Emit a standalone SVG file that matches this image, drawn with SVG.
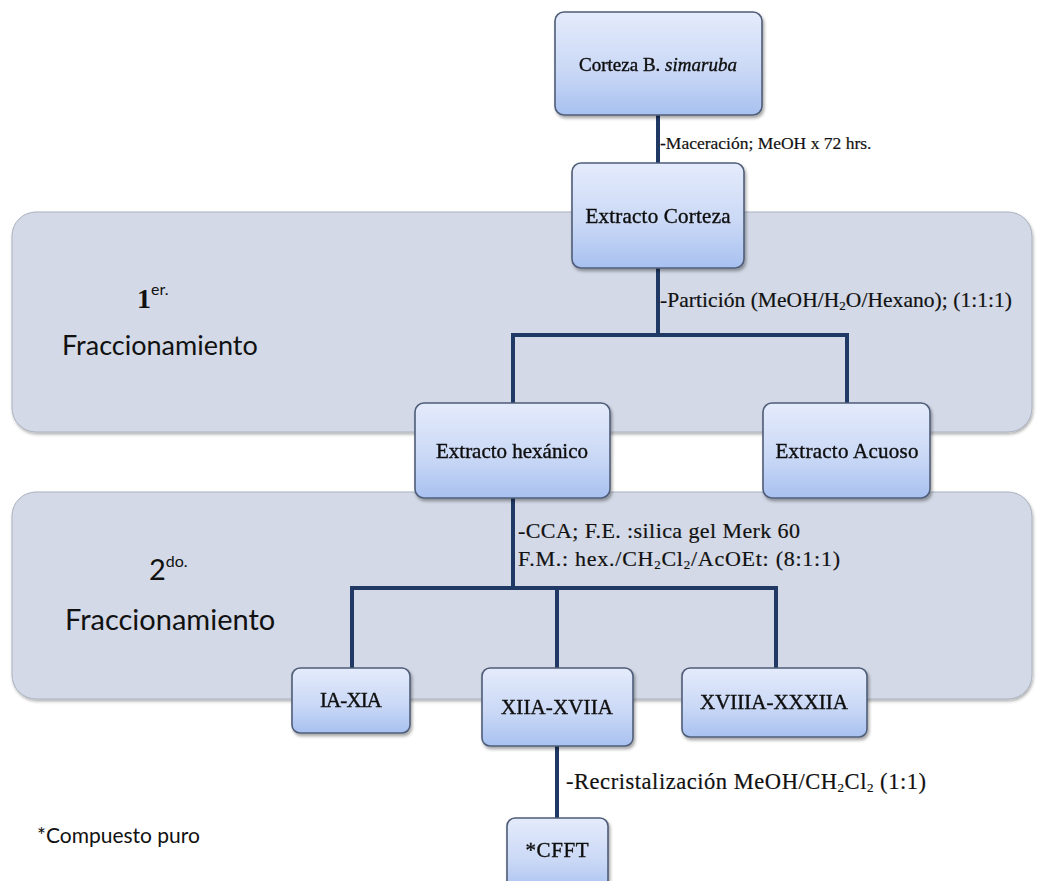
<svg xmlns="http://www.w3.org/2000/svg" width="1037" height="881" viewBox="0 0 1037 881">
<defs>
<linearGradient id="ng" x1="0" y1="0" x2="0" y2="1">
<stop offset="0" stop-color="#e4ebfb"/>
<stop offset="0.55" stop-color="#cbd9f6"/>
<stop offset="1" stop-color="#a8c1f0"/>
</linearGradient>
<filter id="sh" x="-10%" y="-10%" width="130%" height="140%">
<feDropShadow dx="1.5" dy="2.5" stdDeviation="1.5" flood-color="#000" flood-opacity="0.35"/>
</filter>
<filter id="bsh" x="-5%" y="-5%" width="110%" height="115%">
<feDropShadow dx="1" dy="2" stdDeviation="1.5" flood-color="#000" flood-opacity="0.3"/>
</filter>
</defs>
<style>
.band{fill:#d3d9e6;stroke:#aab1bf;stroke-width:1}
.node{fill:url(#ng);stroke:#4f5d78;stroke-width:1.6}
.nt{font-family:"Liberation Serif",serif;font-size:21px;fill:#111;text-anchor:middle;dominant-baseline:central;stroke:#111;stroke-width:0.4}
.lab{font-family:"Liberation Serif",serif;font-size:21.5px;fill:#111;stroke:#111;stroke-width:0.2}
.sub{font-size:13px}
.side{font-family:Lato,"Noto Sans",sans-serif;font-size:27px;fill:#111}
.con{fill:none;stroke:#1f3864;stroke-width:4}
</style>
<rect width="1037" height="881" fill="#fff"/>
<g id="band1" filter="url(#bsh)"><rect class="band" x="12" y="212" width="1020" height="220" rx="24"/></g>
<g id="band2" filter="url(#bsh)"><rect class="band" x="12" y="492" width="1020" height="207" rx="24"/></g>
<g id="sidelabels">
<text class="side" x="137" y="308" style="font-family:'Liberation Serif',serif;font-weight:bold;font-size:28px">1<tspan style="font-family:Lato,sans-serif;font-weight:normal;font-size:16px" dy="-13">er.</tspan></text>
<text class="side" x="62" y="355">Fraccionamiento</text>
<text class="side" x="149" y="580" style="font-size:29px">2<tspan style="font-size:16px" dy="-13">do.</tspan></text>
<text class="side" x="65" y="630" style="font-size:29px">Fraccionamiento</text>
<text x="37" y="843" font-family="Lato,'Noto Sans',sans-serif" font-size="21" fill="#111">*Compuesto puro</text>
</g>
<g id="connectors">
<path class="con" d="M658 115V163"/>
<path class="con" d="M658 268V335M513 335H847M513 333V403M847 333V403"/>
<path class="con" d="M513 498V588M352 588H776M352 586V668M557 586V668M776 586V668"/>
<path class="con" d="M557 746V818"/>
</g>
<g id="connector-labels">
<text class="lab" x="660" y="149" style="font-size:17.5px">-Maceración; MeOH x 72 hrs.</text>
<text class="lab" x="660" y="307" textLength="352">-Partición (MeOH/H<tspan class="sub" dy="3">2</tspan><tspan dy="-3">O/Hexano); (1:1:1)</tspan></text>
<text class="lab" x="518" y="538" style="font-size:22px" textLength="282">-CCA; F.E. :silica gel Merk 60</text>
<text class="lab" x="518" y="566" style="font-size:22px" textLength="322">F.M.: hex./CH<tspan class="sub" dy="3">2</tspan><tspan dy="-3">Cl</tspan><tspan class="sub" dy="3">2</tspan><tspan dy="-3">/AcOEt: (8:1:1)</tspan></text>
<text class="lab" x="566" y="789" style="font-size:22.5px" textLength="360">-Recristalización  MeOH/CH<tspan class="sub" dy="3">2</tspan><tspan dy="-3">Cl</tspan><tspan class="sub" dy="3">2</tspan><tspan dy="-3"> (1:1)</tspan></text>
</g>
<g id="n-corteza" filter="url(#sh)"><rect class="node" x="555" y="12" width="207" height="103" rx="9"/><text class="nt" x="658" y="64" style="font-size:19px">Corteza B. <tspan font-style="italic">simaruba</tspan></text></g>
<g id="n-extracto-corteza" filter="url(#sh)"><rect class="node" x="572" y="163" width="172" height="105" rx="9"/><text class="nt" x="658" y="216" textLength="145">Extracto Corteza</text></g>
<g id="n-hexanico" filter="url(#sh)"><rect class="node" x="415" y="403" width="195" height="95" rx="9"/><text class="nt" x="512" y="451" textLength="152">Extracto hexánico</text></g>
<g id="n-acuoso" filter="url(#sh)"><rect class="node" x="763" y="403" width="167" height="95" rx="9"/><text class="nt" x="847" y="451" textLength="143">Extracto Acuoso</text></g>
<g id="n-ia-xia" filter="url(#sh)"><rect class="node" x="292" y="668" width="118" height="65" rx="8"/><text class="nt" x="351" y="700" textLength="62">IA-XIA</text></g>
<g id="n-xiia-xviia" filter="url(#sh)"><rect class="node" x="482" y="668" width="151" height="78" rx="8"/><text class="nt" x="557" y="707" textLength="112">XIIA-XVIIA</text></g>
<g id="n-xviiia-xxxiia" filter="url(#sh)"><rect class="node" x="682" y="668" width="185" height="69" rx="8"/><text class="nt" x="774" y="702" textLength="148">XVIIIA-XXXIIA</text></g>
<g id="n-cfft" filter="url(#sh)"><rect class="node" x="507" y="818" width="101" height="75" rx="8"/><text class="nt" x="557" y="850" textLength="63">*CFFT</text></g>
</svg>
